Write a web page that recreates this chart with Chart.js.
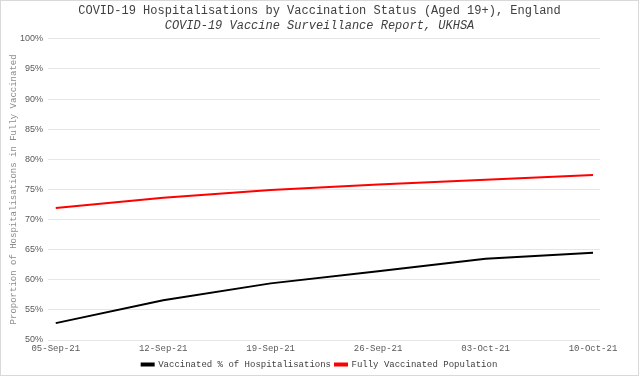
<!DOCTYPE html>
<html>
<head>
<meta charset="utf-8">
<script src="https://cdn.jsdelivr.net/npm/chart.js@4"></script>
<style>
  html, body { margin: 0; padding: 0; background: #fff; }
  #wrap { width: 637px; height: 374px; border: 1px solid #d9d9d9; }
</style>
</head>
<body>
<div id="wrap"><canvas id="hospChart" width="637" height="374"></canvas></div>
<script>
const weekLabels = ["05-Sep-21", "12-Sep-21", "19-Sep-21", "26-Sep-21", "03-Oct-21", "10-Oct-21"];
const vaccinatedHosp = [52.8, 56.6, 59.4, 61.4, 63.5, 64.5];
const fullyVaccinatedPop = [71.9, 73.6, 74.9, 75.8, 76.6, 77.4];
const yTicks = [50, 55, 60, 65, 70, 75, 80, 85, 90, 95, 100];

const mono = "'Liberation Mono', 'DejaVu Sans Mono', monospace";

function toPoints(values) {
  return values.map((v, i) => ({ x: i, y: v }));
}

const ctx = document.getElementById("hospChart").getContext("2d");

const config = {
  type: "line",
  data: {
    datasets: [
      {
        label: "Vaccinated % of Hospitalisations",
        data: toPoints(vaccinatedHosp),
        borderColor: "#000000",
        backgroundColor: "#000000",
        borderWidth: 2,
        pointRadius: 0,
        tension: 0,
      },
      {
        label: "Fully Vaccinated Population",
        data: toPoints(fullyVaccinatedPop),
        borderColor: "#ff0000",
        backgroundColor: "#ff0000",
        borderWidth: 2,
        pointRadius: 0,
        tension: 0,
      },
    ],
  },
  options: {
    responsive: false,
    animation: false,
    layout: {
      padding: 0,
    },
    plugins: {
      title: {
        display: true,
        text: "COVID-19 Hospitalisations by Vaccination Status (Aged 19+), England",
        color: "#404040",
        font: { family: mono, size: 12, weight: "normal" },
        padding: { top: 3, bottom: 0 },
      },
      subtitle: {
        display: true,
        text: "COVID-19 Vaccine Surveillance Report, UKHSA",
        color: "#404040",
        font: { family: mono, size: 12, style: "italic", weight: "normal" },
        padding: { top: 0, bottom: 6 },
      },
      legend: {
        position: "bottom",
        maxHeight: 19,
        labels: {
          color: "#404040",
          font: { family: mono, size: 9 },
          boxWidth: 12,
          boxHeight: 2,
          padding: 4,
        },
      },
      tooltip: { enabled: false },
    },
    scales: {
      x: {
        type: "linear",
        min: -0.072,
        max: 5.065,
        afterBuildTicks: (scale) => {
          scale.ticks = weekLabels.map((_, i) => ({ value: i }));
        },
        afterFit: (scale) => {
          scale.height = 16;
        },
        grid: { display: false, drawTicks: false },
        border: { display: false },
        ticks: {
          color: "#595959",
          font: { family: mono, size: 9 },
          maxRotation: 0,
          padding: 3,
          callback: (v) => weekLabels[v],
        },
      },
      y: {
        min: 50,
        max: 100,
        afterBuildTicks: (scale) => {
          scale.ticks = yTicks.map((v) => ({ value: v }));
        },
        afterFit: (scale) => {
          scale.width = 47;
        },
        grid: { color: "#e6e6e6", lineWidth: 1, drawTicks: false },
        border: { display: false },
        ticks: {
          color: "#595959",
          font: { family: "'Liberation Sans', Arial, sans-serif", size: 9 },
          padding: 5,
          callback: (v) => v + "%",
        },
        title: {
          display: true,
          text: "Proportion of Hospitalisations in Fully Vaccinated",
          color: "#8c8c8c",
          font: { family: mono, size: 9 },
          padding: { top: 7, bottom: 0 },
        },
      },
      // empty right-hand axis, only reserves the blank strip right of the plot
      yRight: {
        position: "right",
        grid: { display: false, drawTicks: false },
        border: { display: false },
        ticks: { display: false },
        afterFit: (scale) => {
          scale.width = 38;
        },
      },
    },
  },
};

new Chart(ctx, config);
</script>
</body>
</html>
